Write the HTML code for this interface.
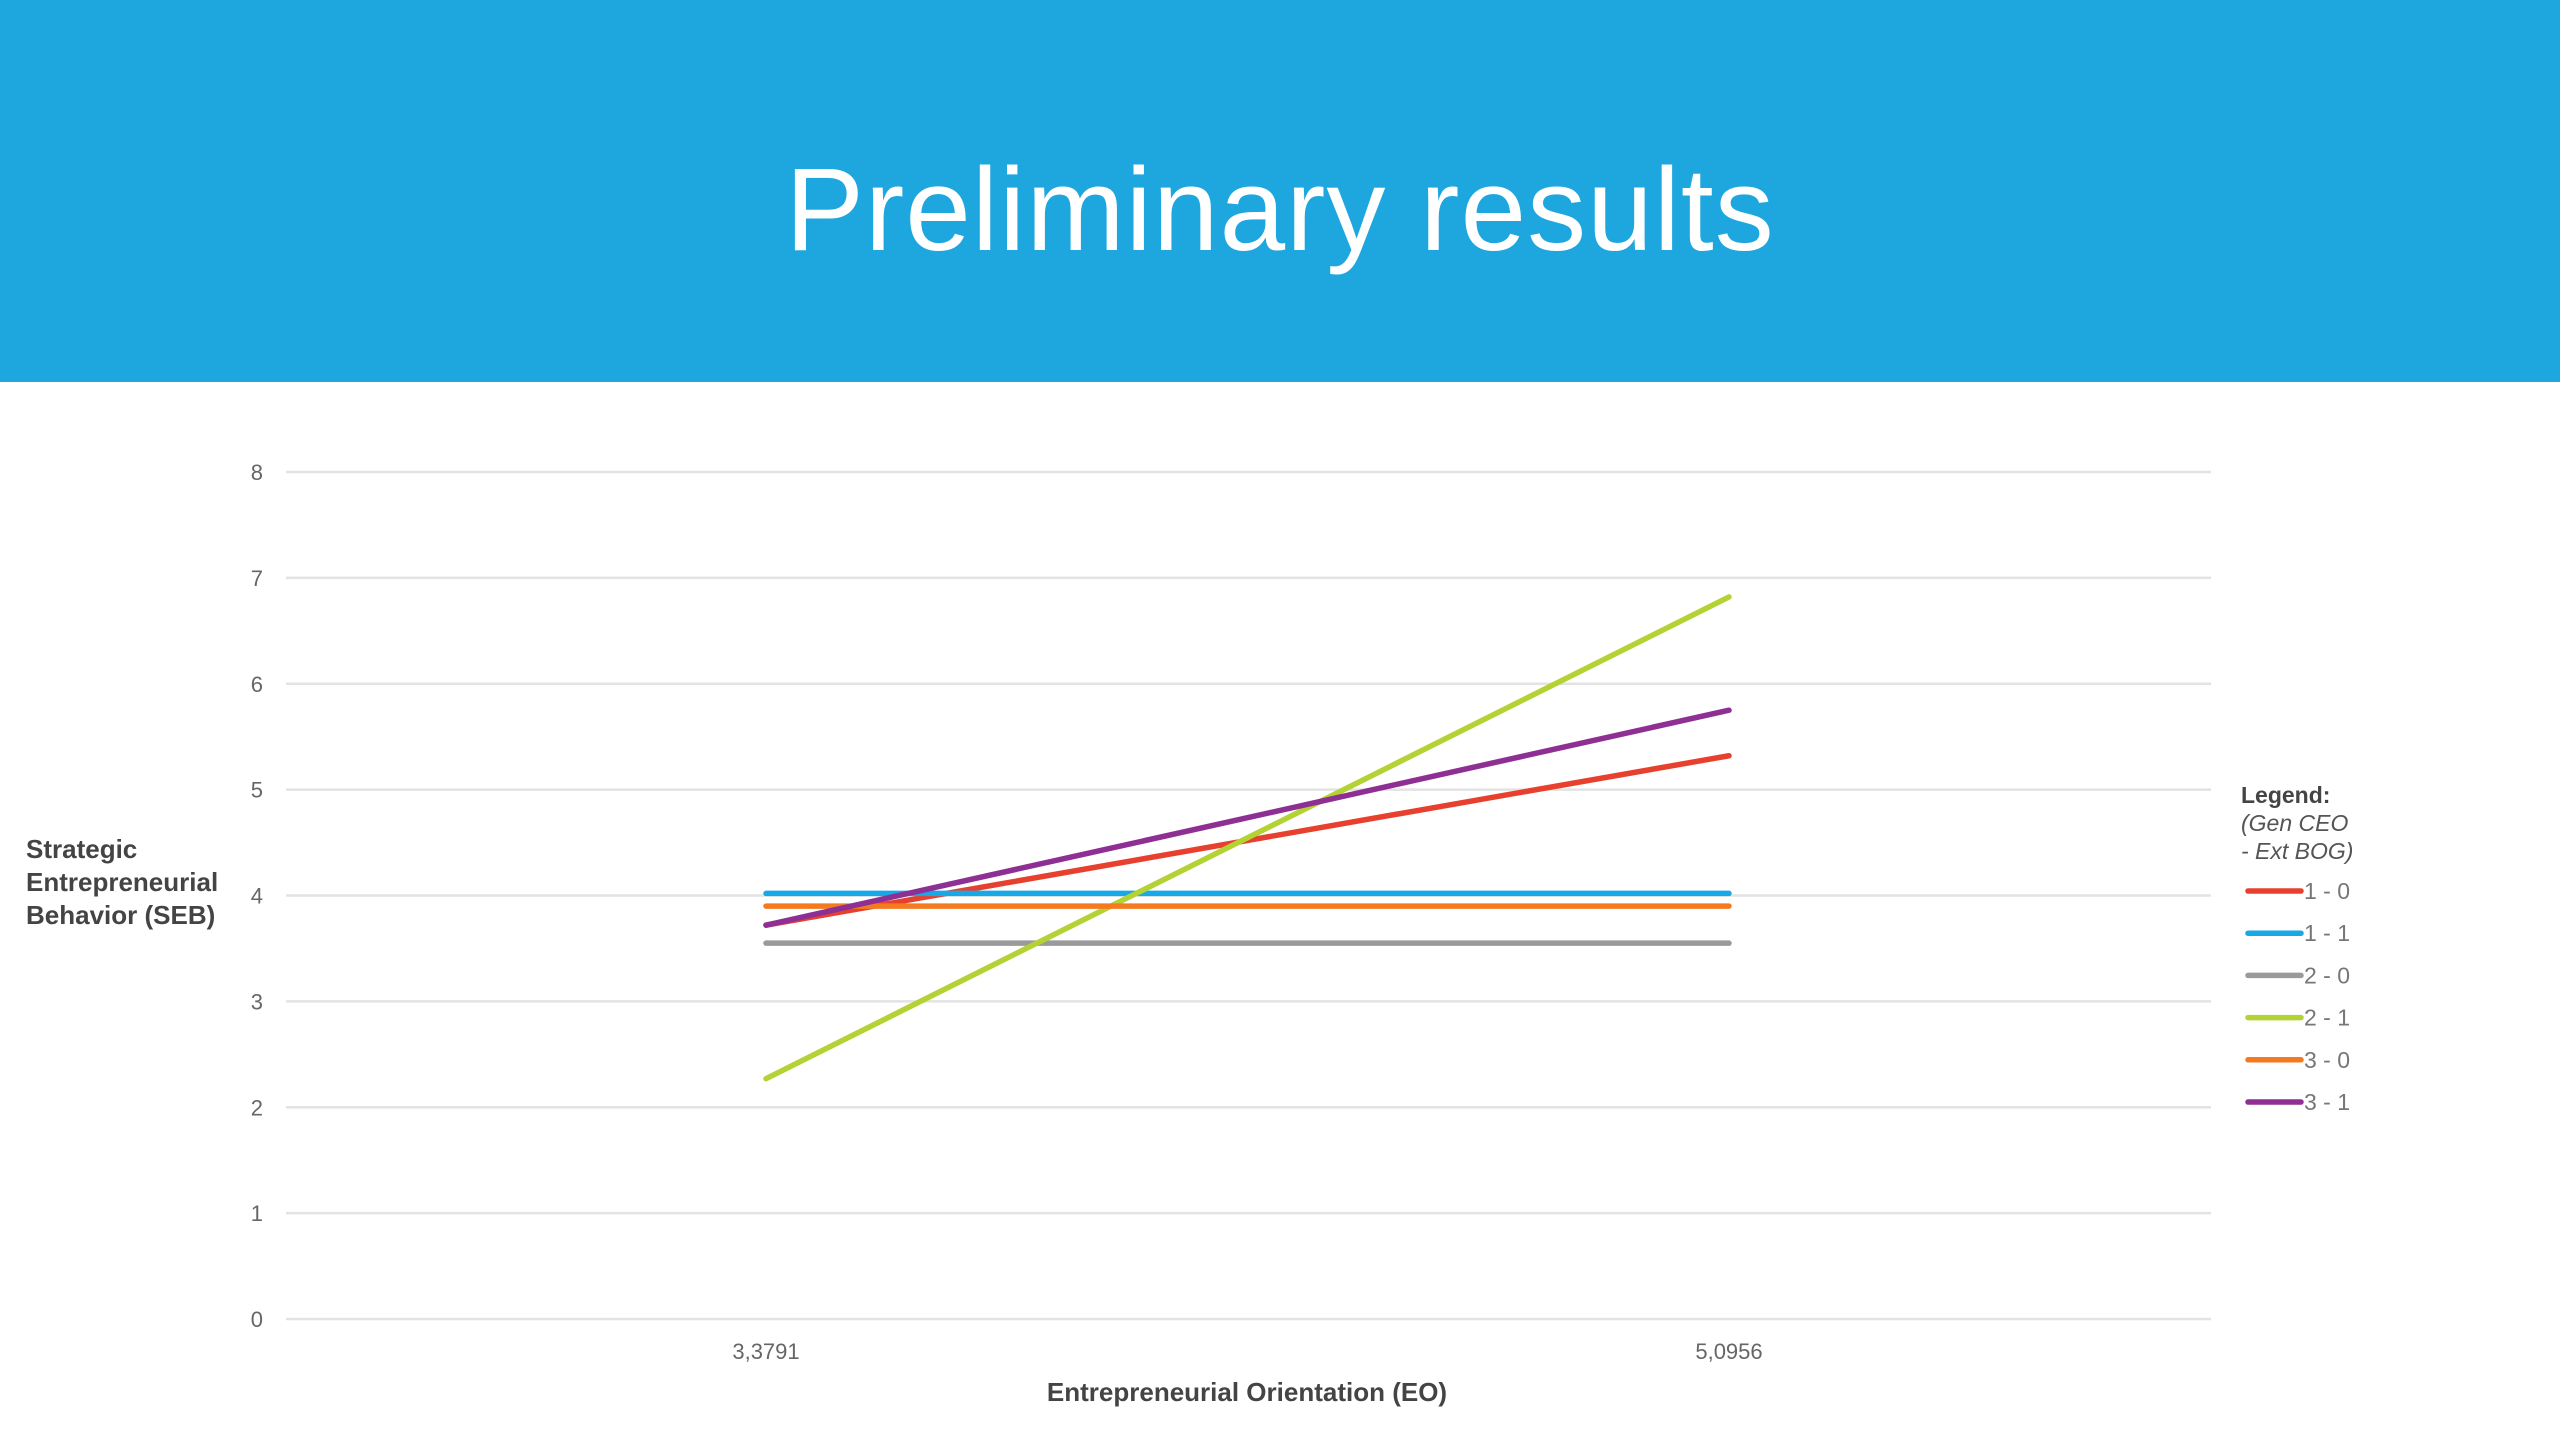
<!DOCTYPE html>
<html><head><meta charset="utf-8"><style>
html,body{margin:0;padding:0;width:2560px;height:1440px;background:#fff;overflow:hidden;font-family:"Liberation Sans",sans-serif;}
#hdr{position:absolute;left:0;top:0;width:2560px;height:382px;background:#1ea7de;}
#title{position:absolute;left:0;width:2560px;top:140px;text-align:center;color:#fff;font-size:118px;line-height:140px;font-weight:normal;letter-spacing:1px;}
</style></head><body>
<div id="hdr"><div id="title">Preliminary results</div></div>
<svg id="chart" width="2560" height="1440" style="position:absolute;left:0;top:0" xmlns="http://www.w3.org/2000/svg"></svg>
<script>
const categories=["3,3791","5,0956"];
const seriesNames=["1 - 0","1 - 1","2 - 0","2 - 1","3 - 0","3 - 1"];
const s10=[3.72,5.32];
const s11=[4.02,4.02];
const s20=[3.55,3.55];
const s21=[2.27,6.82];
const s30=[3.9,3.9];
const s31=[3.72,5.75];
const yTicks=[0,1,2,3,4,5,6,7,8];
const colors=["#e8402e","#18a8e6","#9a9a9a","#b3d334","#f47a20","#8e2f93"];
const seriesVals=[s10,s11,s20,s21,s30,s31];
const NS="http://www.w3.org/2000/svg";
const svg=document.getElementById('chart');
const x0=286,x1=2211,yTop=472,yBot=1319;
const y=v=>yBot-(v/8)*(yBot-yTop);
const xc=i=>766+i*(1729-766);
function mk(t,a){const e=document.createElementNS(NS,t);for(const k in a)e.setAttribute(k,a[k]);svg.appendChild(e);return e;}
yTicks.forEach(t=>{
 const l=mk('line',{x1:x0,x2:x1,y1:y(t),y2:y(t),stroke:'#e3e3e3','stroke-width':2.5});
 
 
 const tx=mk('text',{x:263,y:y(t)+8,'text-anchor':'end','font-size':22,fill:'#666','font-family':'Liberation Sans, sans-serif'});
 tx.textContent=t;
 
 
});
categories.forEach((c,i)=>{
 const tx=mk('text',{x:xc(i),y:1359,'text-anchor':'middle','font-size':22,fill:'#666','font-family':'Liberation Sans, sans-serif'});
 tx.textContent=c;
 
 
});
seriesVals.forEach((vals,si)=>{
 const p=mk('polyline',{points:vals.map((v,i)=>xc(i)+','+y(v)).join(' '),fill:'none',stroke:colors[si],'stroke-width':5.5,'stroke-linecap':'round'});
 
 
});
const xt=mk('text',{x:1247,y:1401,'text-anchor':'middle','font-size':26,'font-weight':'bold',fill:'#444','font-family':'Liberation Sans, sans-serif'});
xt.textContent='Entrepreneurial Orientation (EO)';


['Strategic','Entrepreneurial','Behavior (SEB)'].forEach((s,i)=>{
 const t=mk('text',{x:26,y:858+i*33,'font-size':26,'font-weight':'bold',fill:'#444','font-family':'Liberation Sans, sans-serif'});
 t.textContent=s;
 
 
});
const lg=mk('text',{x:2241,y:803,'font-size':23,'font-weight':'bold',fill:'#444','font-family':'Liberation Sans, sans-serif'});
lg.textContent='Legend:';


['(Gen CEO','- Ext BOG)'].forEach((s,i)=>{
 const t=mk('text',{x:2241,y:831+i*28,'font-size':23,'font-style':'italic',fill:'#555','font-family':'Liberation Sans, sans-serif'});
 t.textContent=s;
 
 
});
seriesNames.forEach((n,i)=>{
 const ly=891+i*42.2;
 const l=mk('line',{x1:2248,x2:2301,y1:ly,y2:ly,stroke:colors[i],'stroke-width':5.5,'stroke-linecap':'round'});
 
 
 const t=mk('text',{x:2304,y:ly+8,'font-size':23,fill:'#777','font-family':'Liberation Sans, sans-serif'});
 t.textContent=n;
 
 
});
</script>
</body></html>
